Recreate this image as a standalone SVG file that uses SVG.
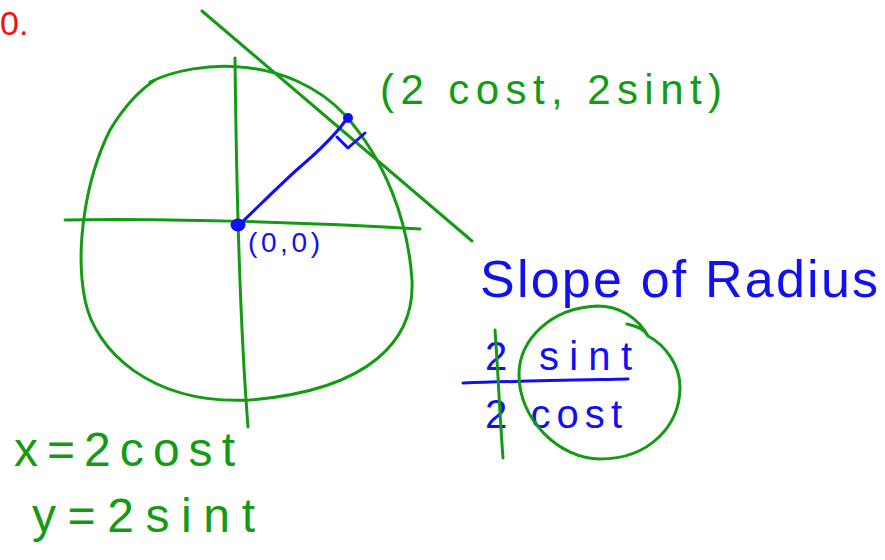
<svg xmlns="http://www.w3.org/2000/svg" width="885" height="560" viewBox="0 0 885 560">
<style>
.g{fill:none;stroke:#149b14;stroke-width:3;stroke-linecap:round;stroke-linejoin:round}
.b{fill:none;stroke:#1010f0;stroke-width:3;stroke-linecap:round;stroke-linejoin:round}
.tg{fill:#149b14;font-family:"Liberation Sans",Arial,sans-serif}
.tb{fill:#1010f0;font-family:"Liberation Sans",Arial,sans-serif}
.tr{fill:#f01010;font-family:"Liberation Sans",Arial,sans-serif}
</style>
<rect width="885" height="560" fill="#ffffff"/>
<g id="label-number">
<text class="tr" x="0" y="35" font-size="34">0.</text>
</g>
<g id="circle">
<path class="g" d="M150,82 C175,70 210,64 240,67 C280,70 318,86 345,115 C385,160 408,220 412,280 C415,340 370,390 250,400 C150,405 95,350 85,300 C75,250 85,180 110,130 C125,105 140,90 155,80"/>
</g>
<g id="axes">
<path class="g" d="M65,220 C150,218 300,222 420,229"/>
<path class="g" d="M235,58 C236,150 238,300 248,427"/>
</g>
<g id="tangent">
<path class="g" d="M202,11 L472,241"/>
</g>
<g id="radius">
<path class="b" d="M238,226 C260,205 285,180 300,167 C320,150 335,135 346,120"/>
<path class="b" d="M337,137 L348,148 L365,133"/>
<circle cx="348" cy="118" r="5" fill="#1010f0"/>
<ellipse cx="238" cy="225" rx="7.5" ry="6.5" fill="#1010f0"/>
</g>
<g id="label-point">
<text class="tg" x="380" y="104" font-size="42" textLength="342" lengthAdjust="spacing">(2 cost, 2sint)</text>
</g>
<g id="label-origin">
<text class="tb" x="248" y="252" font-size="28" textLength="72" lengthAdjust="spacing">(0,0)</text>
</g>
<g id="slope">
<text class="tb" x="480" y="297" font-size="52" textLength="398" lengthAdjust="spacing">Slope of Radius</text>
<text class="tb" x="485" y="370" font-size="40" textLength="147" lengthAdjust="spacing">2 sint</text>
<path class="b" d="M463,383 C520,381 580,380 628,379"/>
<text class="tb" x="485" y="428" font-size="40" textLength="137" lengthAdjust="spacing">2 cost</text>
<path class="g" d="M495,330 C498,370 500,420 503,458"/>
<path class="g" d="M648,336 C638,318 620,306 597,306 C550,308 520,340 519,373 C518,420 560,459 600,459 C650,459 680,425 680,387 C680,365 665,345 648,336 C645,330 637,326 627,324"/>
</g>
<g id="equations">
<text class="tg" x="14" y="466" font-size="48" textLength="221" lengthAdjust="spacing">x=2cost</text>
<text class="tg" x="32" y="532" font-size="48" textLength="223" lengthAdjust="spacing">y=2sint</text>
</g>
</svg>
